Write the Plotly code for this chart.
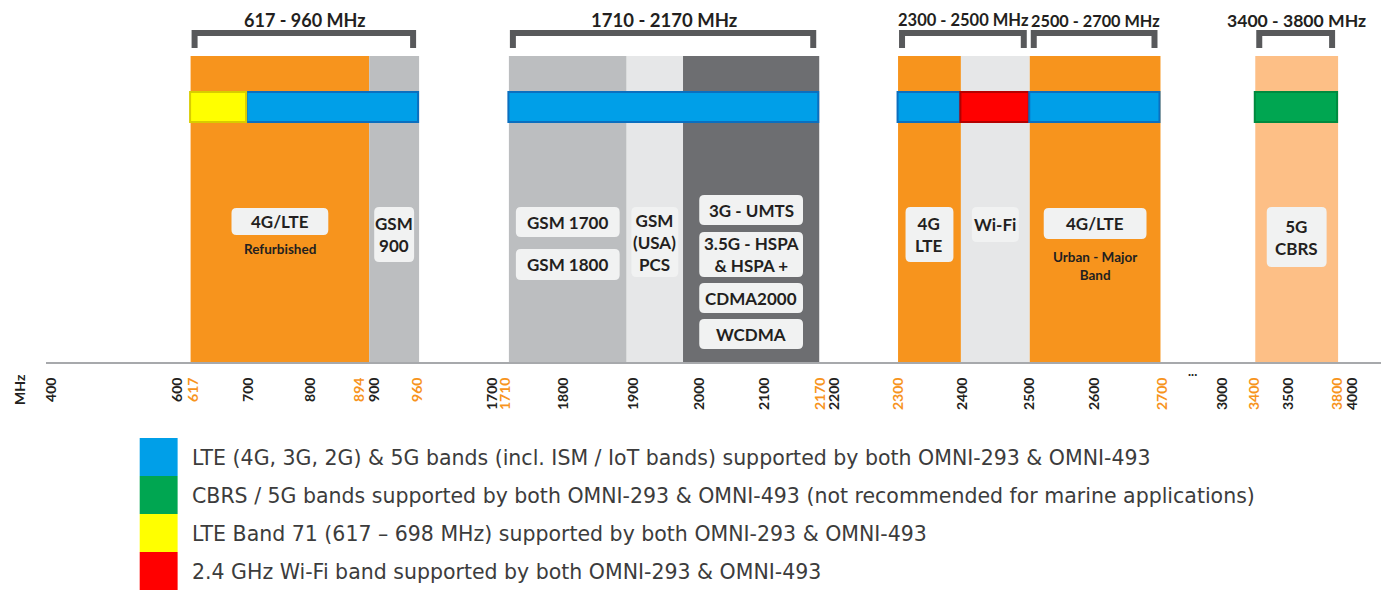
import numpy as np
import plotly.graph_objects as go

W, H = 1381, 590
FONT = "Lato"
LEG_FONT = "DejaVu Sans"
INK = "#231f20"

# ---------------- data ----------------
# non-uniform frequency axis of the original diagram (MHz -> axis units)
scale_mhz = [400, 600, 617, 700, 800, 894, 900, 960, 1700, 1710, 1800, 1900, 2000, 2100,
             2170, 2200, 2300, 2400, 2500, 2600, 2700, 3000, 3400, 3500, 3800, 4000]
scale_pos = [49, 175, 188, 246, 308, 367, 372, 417, 491, 507, 562, 632, 698, 763,
             818, 833, 897, 960, 1029, 1094, 1160, 1222, 1255, 1288, 1338, 1352]

tick_mhz = [400, 600, 617, 700, 800, 894, 900, 960, 1700, 1710, 1800, 1900, 2000, 2100,
            2170, 2200, 2300, 2400, 2500, 2600, 2700, 3000, 3400, 3500, 3800, 4000]
tick_highlight = [617, 894, 960, 1710, 2170, 2300, 2700, 3400, 3800]

# frequency bands (background columns)
band_lo = [617, 894, 1710, 1890, 1975, 2300, 2400, 2500, 3400]
band_hi = [894, 960, 1890, 1975, 2170, 2400, 2500, 2700, 3800]
band_kind = ["lte", "gsm", "gsm", "pcs", "umts", "lte", "wifi", "lte", "cbrs"]

# antenna support bars
sup_lo = [698, 617, 1710, 2300, 2400, 2500, 3400]
sup_hi = [960, 698, 2170, 2400, 2500, 2700, 3800]
sup_kind = ["lte", "b71", "lte", "lte", "wifi", "lte", "cbrs"]

# bracketed ranges
rng_lo = [617, 1710, 2300, 2500, 3400]
rng_hi = [960, 2170, 2500, 2700, 3800]

# labels inside bands: (band index, text)
box_band = [0, 1, 2, 2, 3, 4, 4, 4, 4, 5, 6, 7, 8]
box_text = ["4G/LTE", "GSM<br>900", "GSM 1700", "GSM 1800", "GSM<br>(USA)<br>PCS",
            "3G - UMTS", "3.5G - HSPA<br>& HSPA +", "CDMA2000", "WCDMA",
            "4G<br>LTE", "Wi-Fi", "4G/LTE", "5G<br>CBRS"]
sub_band = [0, 7]
sub_text = ["Refurbished", "Urban - Major<br>Band"]

legend_kind = ["lte", "cbrs", "b71", "wifi"]
legend_text = [
    "LTE (4G, 3G, 2G) & 5G bands (incl. ISM / IoT bands) supported by both OMNI-293 & OMNI-493",
    "CBRS / 5G bands supported by both OMNI-293 & OMNI-493 (not recommended for marine applications)",
    "LTE Band 71 (617 \u2013 698 MHz) supported by both OMNI-293 & OMNI-493",
    "2.4 GHz Wi-Fi band supported by both OMNI-293 & OMNI-493",
]

# ---------------- styles ----------------
band_fill = {"lte": "#f7941d", "gsm": "#bcbec0", "pcs": "#e6e7e8", "umts": "#6d6e71",
             "wifi": "#e6e7e8", "cbrs": "#fdbf86"}
sup_fill = {"lte": "#009fe8", "b71": "#ffff00", "wifi": "#ff0000", "cbrs": "#00a651"}
sup_line = {"lte": "#0b6fbf", "b71": "#d8cc00", "wifi": "#b40000", "cbrs": "#008a3f"}
bracket_font = [18, 18.5, 16.5, 16.3, 17.6]

AXIS_PY = 362  # pixel row of the frequency axis


def fx(f):
    return float(np.interp(f, scale_mhz, scale_pos))


def Y(py):
    return AXIS_PY - py


def rrect(x0, y0, x1, y1, r):
    return (f"M{x0+r},{y0} L{x1-r},{y0} Q{x1},{y0} {x1},{y0+r} L{x1},{y1-r} "
            f"Q{x1},{y1} {x1-r},{y1} L{x0+r},{y1} Q{x0},{y1} {x0},{y1-r} "
            f"L{x0},{y0+r} Q{x0},{y0} {x0+r},{y0} Z")


shapes, annos = [], []

# band columns
for lo, hi, k in zip(band_lo, band_hi, band_kind):
    shapes.append(dict(type="rect", xref="x", yref="y", x0=fx(lo), x1=fx(hi),
                       y0=Y(AXIS_PY + 2), y1=Y(56), fillcolor=band_fill[k],
                       line=dict(width=0), layer="below"))

# support bars
for lo, hi, k in zip(sup_lo, sup_hi, sup_kind):
    shapes.append(dict(type="rect", xref="x", yref="y", x0=fx(lo) - 0.5, x1=fx(hi) - 1,
                       y0=Y(122), y1=Y(92), fillcolor=sup_fill[k],
                       line=dict(width=2, color=sup_line[k]), layer="above"))

# brackets + range labels
for lo, hi, fs in zip(rng_lo, rng_hi, bracket_font):
    x0, x1 = fx(lo) + 1, fx(hi) - 3
    t, b, th = Y(30), Y(48), 6
    path = (f"M{x0},{b} L{x0},{t} L{x1},{t} L{x1},{b} L{x1-th},{b} L{x1-th},{t-th} "
            f"L{x0+th},{t-th} L{x0+th},{b} Z")
    shapes.append(dict(type="path", xref="x", yref="y", path=path,
                       fillcolor="#58595b", line=dict(width=0)))
    annos.append(dict(x=(fx(lo) + fx(hi)) / 2, y=Y(20), xref="x", yref="y",
                      xanchor="center", yanchor="middle",
                      text=f"<b>{lo} - {hi} MHz</b>", showarrow=False,
                      font=dict(family=FONT, size=fs, color=INK)))

# label boxes
box_w = [97, 40, 104, 104, 47, 104, 104, 104, 104, 48, 47, 103, 60]
box_top = [208, 207, 207, 249, 207, 195, 232, 283, 319, 207, 207, 208, 207]
box_bot = [235, 262, 237, 280, 277, 225, 277, 313, 349, 262, 242, 239, 267]
for bi, txt, w, t, b in zip(box_band, box_text, box_w, box_top, box_bot):
    cx = (fx(band_lo[bi]) + fx(band_hi[bi])) / 2
    shapes.append(dict(type="path", xref="x", yref="y",
                       path=rrect(cx - w / 2, Y(b), cx + w / 2, Y(t), 5),
                       fillcolor="#f1f2f2", line=dict(width=0)))
    annos.append(dict(x=cx, y=Y((t + b) / 2), xref="x", yref="y", text=f"<b>{txt}</b>",
                      xanchor="center", yanchor="middle",
                      showarrow=False, font=dict(family=FONT, size=17, color=INK)))

sub_py = [249, 266]
for bi, txt, py in zip(sub_band, sub_text, sub_py):
    cx = (fx(band_lo[bi]) + fx(band_hi[bi])) / 2
    annos.append(dict(x=cx, y=Y(py), xref="x", yref="y", text=f"<b>{txt}</b>",
                      xanchor="center", yanchor="middle",
                      showarrow=False, font=dict(family=FONT, size=13.5, color=INK)))

# axis extras
annos.append(dict(x=16 / W, y=Y(389) / AXIS_PY, xref="paper", yref="paper",
                  xanchor="center", yanchor="middle",
                  text="<b>MHz</b>", textangle=-90, showarrow=False,
                  font=dict(family=FONT, size=14, color=INK)))
annos.append(dict(x=fx(2850) + 1, y=Y(371) / AXIS_PY, xref="x", yref="paper",
                  xanchor="center", yanchor="middle",
                  text="<b>...</b>", showarrow=False,
                  font=dict(family=FONT, size=13, color=INK)))

# legend
for i, (k, txt) in enumerate(zip(legend_kind, legend_text)):
    top = 438 + 38 * i
    shapes.append(dict(type="rect", xref="paper", yref="paper",
                       x0=137 / W, x1=175 / W, y0=Y(top + 38) / AXIS_PY, y1=Y(top) / AXIS_PY,
                       fillcolor=sup_fill[k], line=dict(width=0)))
    annos.append(dict(x=187 / W, y=Y(top + 20) / AXIS_PY, xref="paper", yref="paper",
                      xanchor="left", yanchor="middle", text=txt, showarrow=False,
                      font=dict(family=LEG_FONT, size=20.5, color="#3c3c3c")))

# tick labels (crowded neighbours nudged apart)
tick_nudge = {617: 3, 894: -10, 960: -2, 1710: -3, 2170: 1, 2400: 2, 2700: 2, 3400: -1, 3800: -1}
tickvals = [fx(f) + tick_nudge.get(f, 0) for f in tick_mhz]
ticktext = [f'<span style="color:#f7941d">{f}</span>' if f in tick_highlight else str(f)
            for f in tick_mhz]

fig = go.Figure()
fig.add_trace(go.Scatter(x=[fx(400)], y=[0], mode="markers", marker=dict(opacity=0),
                         hoverinfo="skip", showlegend=False))
fig.update_layout(
    width=W, height=H, paper_bgcolor="white", plot_bgcolor="white",
    margin=dict(l=0, r=0, t=0, b=H - AXIS_PY), showlegend=False,
    shapes=shapes, annotations=annos,
    xaxis=dict(domain=[43 / W, 1], range=[43, W], showgrid=False, zeroline=False,
               showline=True, linecolor="#a7a9ac", linewidth=2,
               tickmode="array", tickvals=tickvals, ticktext=ticktext, tickangle=-90,
               ticks="outside", ticklen=8, tickcolor="rgba(0,0,0,0)",
               tickfont=dict(family=FONT, size=14, color=INK, weight="bold"),
               fixedrange=True),
    yaxis=dict(range=[0, AXIS_PY], visible=False, fixedrange=True),
)
fig.write_html("out.html", config={"displayModeBar": False},
               post_script="document.body.style.margin='0';document.body.style.overflow='hidden';")
